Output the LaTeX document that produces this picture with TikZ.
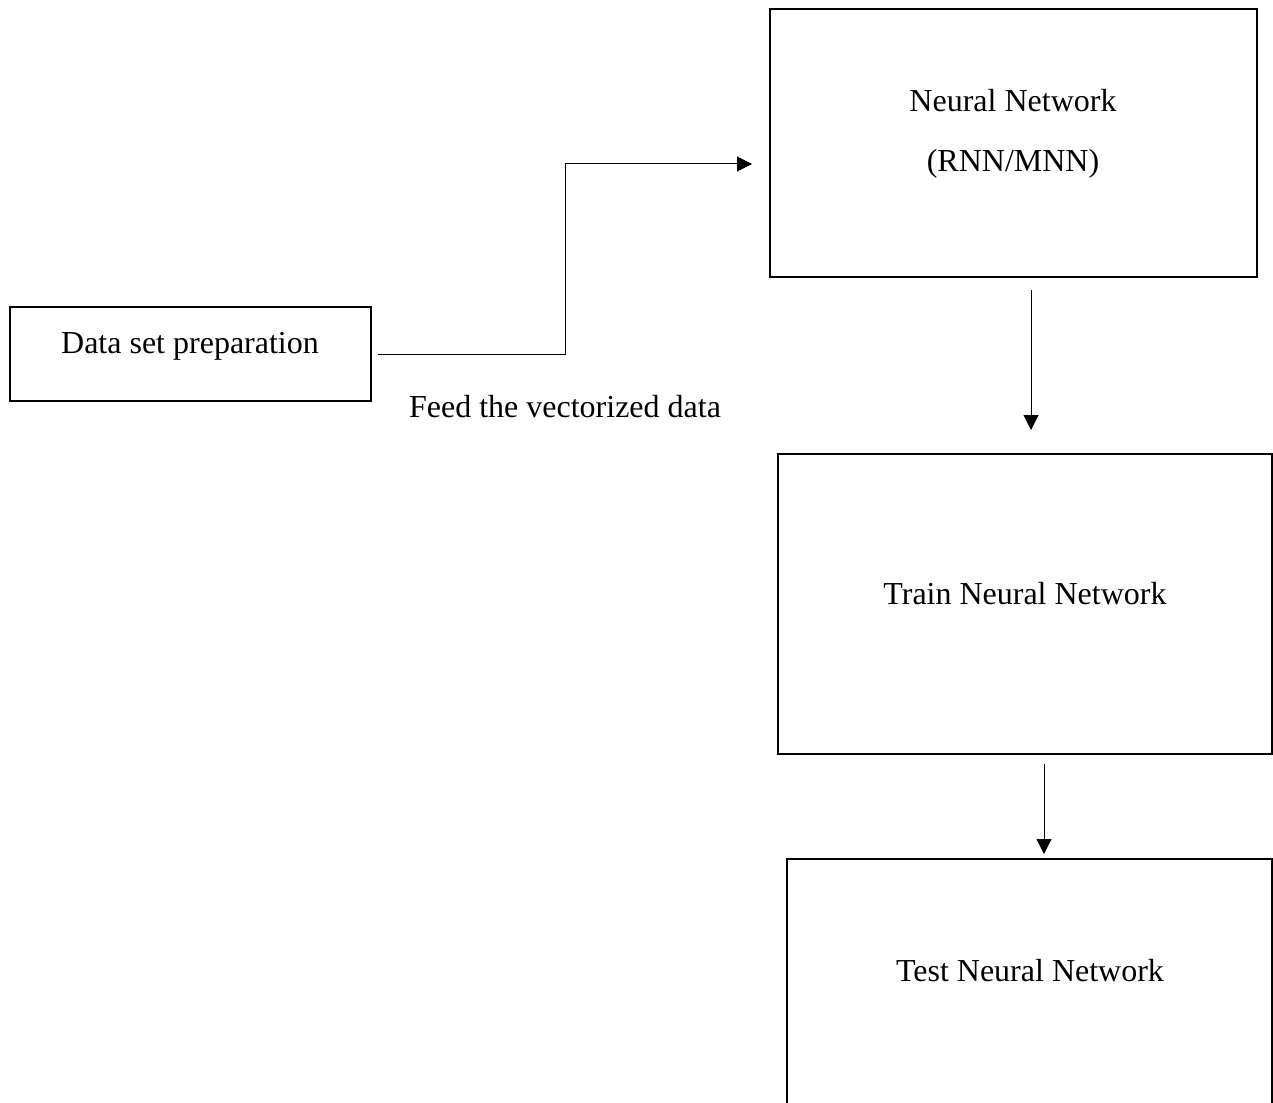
\documentclass[tikz,border=0pt]{standalone}
\usepackage{fontspec}
\setmainfont{Liberation Serif}
\usetikzlibrary{arrows.meta,positioning}

\begin{document}
\begin{tikzpicture}[x=1pt, y=1pt, font=\fontsize{32}{38}\selectfont]
            \tikzstyle{stage} = [rectangle, draw, line width=2pt, inner sep=0pt]
            \tikzstyle{caption} = [inner sep=0pt, align=center]
            \tikzstyle{arrow} = [line width=1pt, -{Triangle[length=15pt, width=15pt]}]

            \useasboundingbox (0,0) rectangle (1273,-1102);

            \node [stage, minimum width=361, minimum height=94] (prep) at (190.5,-354) {};
            \node [stage, minimum width=487, minimum height=268] (nn) at (1013.5,-143) {};
            \node [stage, minimum width=494, minimum height=300] (train) at (1025,-604) {};
            \node [stage, minimum width=485, minimum height=270] (test) at (1029.5,-994) {};

            \node [caption] (preptext) at (190,-346) {Data set preparation};
            \node [caption] (nntext) at (1013,-134) {Neural Network\\[22pt](RNN/MNN)};
            \node [caption] (traintext) at (1025,-594) {Train Neural Network};
            \node [caption] (testtext) at (1030,-971) {Test Neural Network};
            \node [caption] (feed) at (565,-407) {Feed the vectorized data};

            \coordinate (bend) at (565,-164);
            \coordinate (down1) at (1031,0);
            \coordinate (down2) at (1044,0);

            \draw [arrow, shorten <=6pt, shorten >=17pt] (prep.east) -| (bend) -- (bend -| nn.west);
            \draw [arrow, shorten <=12pt, shorten >=23pt] (nn.south -| down1) -- (train.north -| down1);
            \draw [arrow, shorten <=9pt, shorten >=4pt] (train.south -| down2) -- (test.north -| down2);
        \end{tikzpicture}
\end{document}
